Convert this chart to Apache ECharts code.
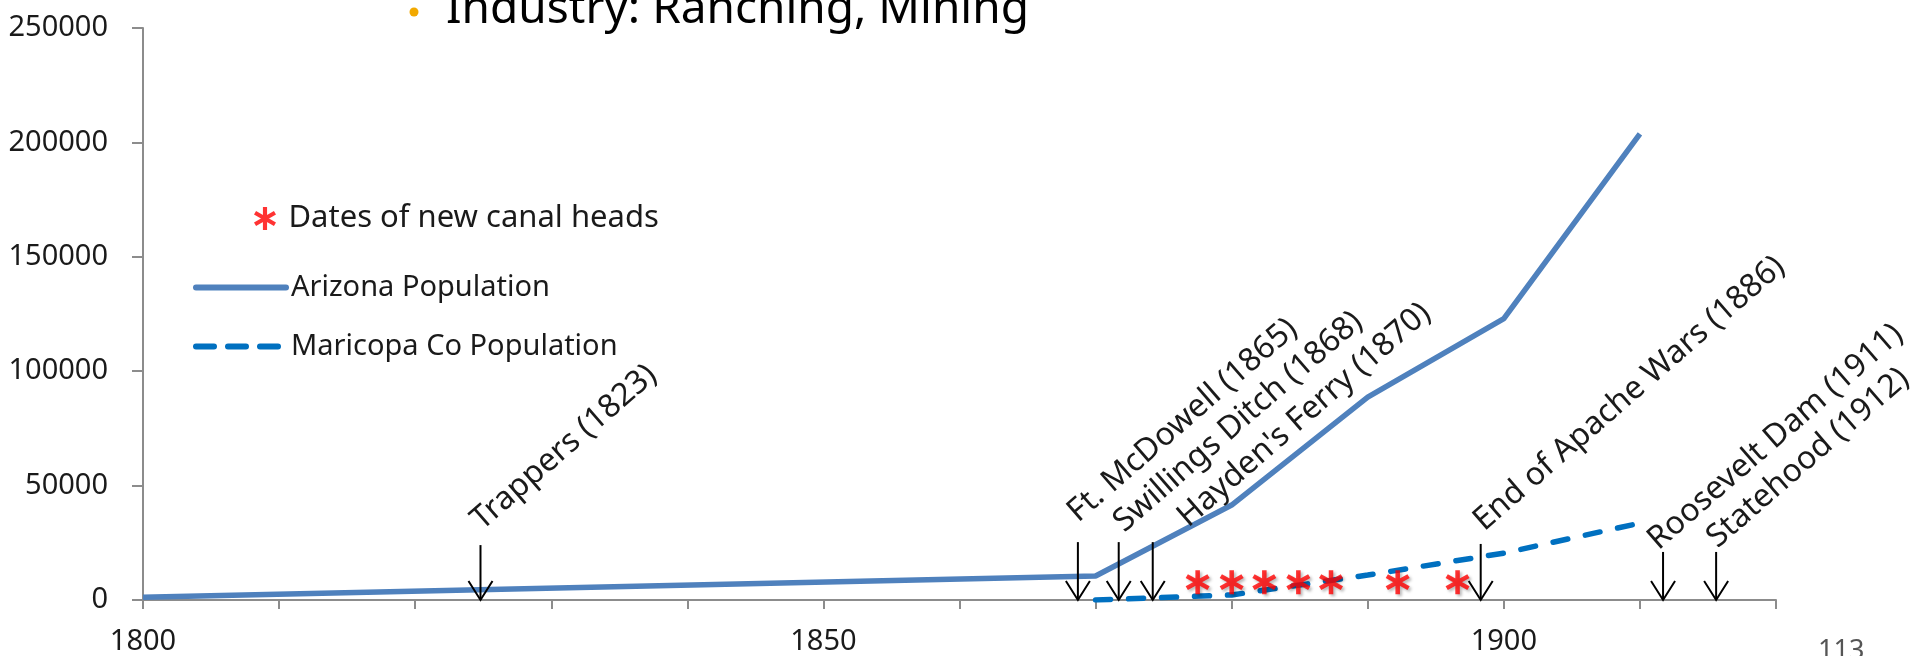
<!DOCTYPE html>
<html>
<head>
<meta charset="utf-8">
<script src="https://cdn.jsdelivr.net/npm/echarts@6/dist/echarts.min.js"></script>
<style>
  html, body { margin: 0; padding: 0; background: #fff; }
  #chart { width: 1915px; height: 656px; }
</style>
</head>
<body>
<div id="chart"></div>
<script>
// census points
const azYears = [1800, 1870, 1880, 1890, 1900, 1910];
const azPop = [1200, 10500, 41500, 88700, 123000, 203700];
const mcYears = [1870, 1880, 1890, 1900, 1910];
const mcPop = [0, 2200, 10900, 20500, 33600];

// red asterisks (canal heads), all drawn at the same height
const canalYears = [1877.5, 1880, 1882.4, 1884.9, 1887.3, 1892.2, 1896.6];
const canalLevel = [7800, 7800, 7800, 7800, 7800, 7800, 7800];

// arrow annotations (where the arrows sit on the axis, and how high they start)
const eventLabels = ["Trappers (1823)", "Ft. McDowell (1865)", "Swillings Ditch (1868)",
  "Hayden's Ferry (1870)", "End of Apache Wars (1886)", "Roosevelt Dam (1911)", "Statehood (1912)"];
const eventYears = [1824.8, 1868.7, 1871.7, 1874.2, 1898.3, 1911.7, 1915.6];
const eventTops = [24000, 25300, 25300, 25300, 24500, 21000, 21000];

const xLabelYears = [1800, 1850, 1900];

// label nudges in px (text boxes were placed by hand in the original)
const labelDx = [6, 5, 10, 40, 8, 0, 6];
const labelDy = [-9, -14, -4, -9, -7, 4, 2];

const FONT = '"Noto Sans", "Open Sans", sans-serif';
const starPath = 'path://M-1.8,-10L1.8,-10L1.8,10L-1.8,10Z' +
  'M7.76,6.56L-9.56,-3.44L-7.76,-6.56L9.56,3.44Z' +
  'M9.56,-3.44L-7.76,6.56L-9.56,3.44L7.76,-6.56Z';

let chart = echarts.init(document.getElementById("chart"));

chart.setOption({
  animation: false,
  backgroundColor: "#fff",
  textStyle: { fontFamily: FONT },
  grid: { left: 143, right: 139, top: 28, bottom: 56 },
  legend: [
    {
      data: ["Dates of new canal heads"],
      left: 254, top: 203,
      itemWidth: 37, itemHeight: 23,
      padding: 0,
      textStyle: { fontSize: 31, color: "#1a1a1a", fontFamily: FONT }
    },
    {
      data: [
        { name: "Arizona Population" },
        { name: "Maricopa Co Population", lineStyle: { type: [18, 14] } }
      ],
      orient: "vertical",
      left: 193, top: 273,
      itemWidth: 90, itemHeight: 30,
      itemGap: 30,
      padding: 0,
      itemStyle: { opacity: 0, borderWidth: 0 },
      lineStyle: { width: 6, cap: "round" },
      textStyle: { fontSize: 29, color: "#1a1a1a", fontFamily: FONT }
    }
  ],
  xAxis: {
    type: "value",
    min: 1800, max: 1920, interval: 10,
    splitLine: { show: false },
    axisLine: { lineStyle: { color: "#8c8c8c", width: 2 } },
    axisTick: { length: 9, lineStyle: { color: "#8c8c8c", width: 2 } },
    axisLabel: {
      margin: 27,
      fontSize: 29,
      color: "#1a1a1a",
      fontFamily: FONT,
      formatter: v => xLabelYears.indexOf(v) >= 0 ? String(v) : ""
    }
  },
  yAxis: {
    type: "value",
    min: 0, max: 250000, interval: 50000,
    splitLine: { show: false },
    axisLine: { show: true, lineStyle: { color: "#8c8c8c", width: 2 } },
    axisTick: { show: true, length: 11, lineStyle: { color: "#8c8c8c", width: 2 } },
    axisLabel: {
      margin: 35,
      fontSize: 29,
      color: "#1a1a1a",
      fontFamily: FONT,
      formatter: v => String(v)
    }
  },
  series: [
    {
      name: "Arizona Population",
      type: "line",
      data: azYears.map((y, i) => [y, azPop[i]]),
      symbol: "none",
      lineStyle: { color: "#4f81bd", width: 5.5 },
      itemStyle: { color: "#4f81bd" },
      z: 3
    },
    {
      name: "Maricopa Co Population",
      type: "line",
      data: mcYears.map((y, i) => [y, mcPop[i]]),
      symbol: "none",
      lineStyle: { color: "#0070c0", width: 5.5, type: [15, 18], cap: "round" },
      itemStyle: { color: "#0070c0" },
      z: 3
    },
    {
      name: "Dates of new canal heads",
      type: "scatter",
      data: canalYears.map((y, i) => [y, canalLevel[i]]),
      symbol: starPath,
      symbolSize: 24,
      itemStyle: {
        color: "#ff0000",
        shadowBlur: 3,
        shadowColor: "rgba(0,0,0,0.35)",
        shadowOffsetX: 2,
        shadowOffsetY: 2
      },
      z: 4
    },
    {
      name: "events",
      type: "custom",
      data: eventYears.map((y, i) => [y, eventTops[i]]),
      encode: { x: 0, y: 1 },
      clip: false,
      z: 5,
      renderItem: function (params, api) {
        const i = params.dataIndex;
        const x = api.value(0);
        const top = api.coord([x, api.value(1)]);
        const tip = api.coord([x, 0]);
        return {
          type: "group",
          children: [
            {
              type: "line",
              shape: { x1: top[0], y1: top[1], x2: tip[0], y2: tip[1] },
              style: { stroke: "#000", lineWidth: 2 }
            },
            {
              type: "polyline",
              shape: { points: [[tip[0] - 12, tip[1] - 19], [tip[0], tip[1]], [tip[0] + 12, tip[1] - 19]] },
              style: { stroke: "#000", lineWidth: 2, fill: null }
            },
            {
              type: "text",
              x: top[0] + labelDx[i],
              y: top[1] + labelDy[i],
              rotation: 41 * Math.PI / 180,
              style: {
                text: eventLabels[i],
                x: 0, y: 0,
                font: "32px " + FONT,
                fill: "#1a1a1a",
                align: "left",
                verticalAlign: "bottom",
                textAlign: "left",
                textVerticalAlign: "bottom"
              }
            }
          ]
        };
      }
    }
  ],
  graphic: [
    {
      type: "circle",
      shape: { cx: 414, cy: 12, r: 4.5 },
      style: { fill: "#f2a900" }
    },
    {
      type: "text",
      left: 446, top: -13,
      style: { text: "Industry: Ranching, Mining", font: "46px " + FONT, fill: "#000" }
    },
    {
      type: "text",
      left: 1818, top: 638,
      style: { text: "113", font: "27px " + FONT, fill: "#555" }
    }
  ]
});
</script>
</body>
</html>
